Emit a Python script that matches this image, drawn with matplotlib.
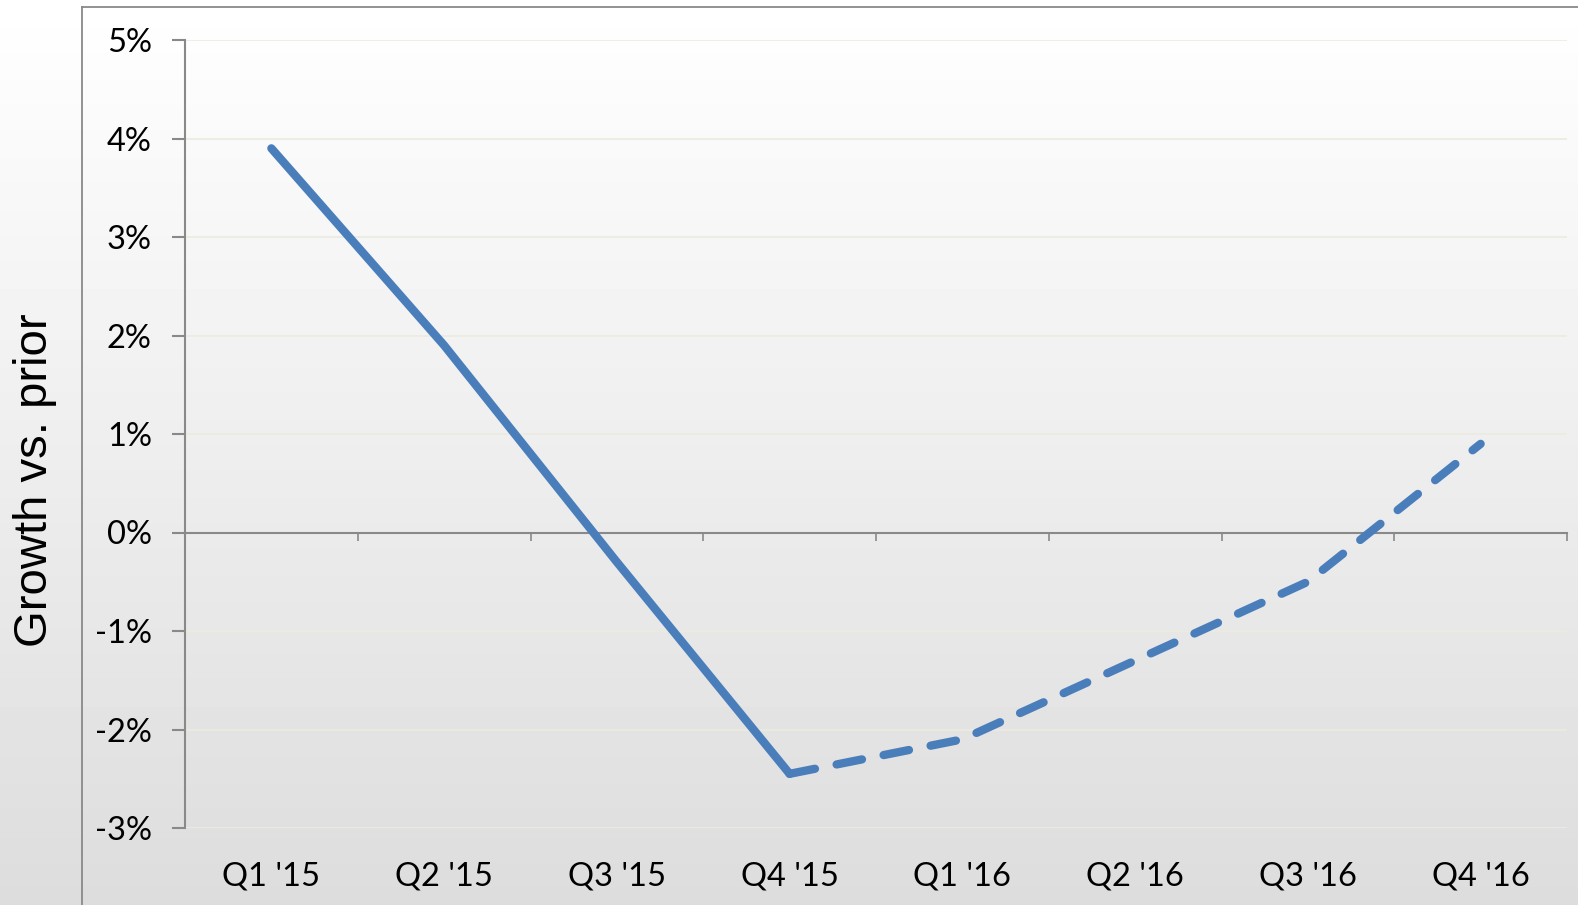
import numpy as np
import matplotlib
matplotlib.use("Agg")
import matplotlib.pyplot as plt
from matplotlib.lines import Line2D

# quarterly growth vs. prior, solid = actual, dashed = forecast
quarters = ["Q1 '15", "Q2 '15", "Q3 '15", "Q4 '15", "Q1 '16", "Q2 '16", "Q3 '16", "Q4 '16"]
growth = [3.9, 1.9, -0.3, -2.45, -2.1, -1.3, -0.5, 0.9]
n_actual = 4
yticks = [-3, -2, -1, 0, 1, 2, 3, 4, 5]

blue = "#4a7ebb"
gray = "#898989"

fig = plt.figure(figsize=(15.78, 9.05), dpi=100)

# gradient background, white at top to light gray at bottom
bg = fig.add_axes([0, 0, 1, 1], zorder=-10)
grad = np.linspace(1.0, 0.865, 256).reshape(-1, 1)
bg.imshow(grad, aspect="auto", cmap="gray", vmin=0, vmax=1, extent=[0, 1, 0, 1])
bg.axis("off")

# outer frame lines
fig.add_artist(Line2D([82 / 1578, 82 / 1578], [0, 1 - 7 / 905], color=gray, lw=1.3))
fig.add_artist(Line2D([82 / 1578, 1], [1 - 7 / 905, 1 - 7 / 905], color=gray, lw=1.3))

ax = fig.add_axes([185 / 1578, 1 - 828 / 905, (1567 - 185) / 1578, (828 - 40) / 905])
ax.set_facecolor("none")

x = np.arange(len(quarters))
ax.plot(x[:n_actual], growth[:n_actual], color=blue, lw=6, solid_capstyle="round",
        solid_joinstyle="miter", zorder=5)
ax.plot(x[n_actual - 1:], growth[n_actual - 1:], color=blue, lw=6, dashes=(3.1, 2.65),
        dash_capstyle="round", zorder=5)

ax.set_xlim(-0.5, len(quarters) - 0.5)
ax.set_ylim(-3, 5)

for s in ["top", "right"]:
    ax.spines[s].set_visible(False)
ax.spines["left"].set_color(gray)
ax.spines["left"].set_linewidth(1.5)
ax.spines["bottom"].set_position(("data", 0))
ax.spines["bottom"].set_color(gray)
ax.spines["bottom"].set_linewidth(1.5)

ax.set_yticks(yticks)
ax.set_yticklabels([f"{v}%" for v in yticks])
ax.yaxis.grid(True, color="#ecebdf", lw=1.2)
ax.set_axisbelow(True)
ax.tick_params(axis="y", length=9.4, width=1.5, color=gray, pad=14.5, labelsize=23.5)

# boundary ticks on the zero line, labels at the bottom
ax.set_xticks(np.arange(len(quarters) + 1) - 0.5)
ax.set_xticklabels([])
ax.tick_params(axis="x", length=6, width=1.2, color=gray, direction="out")

sec = ax.secondary_xaxis("bottom")
sec.set_xticks(x)
sec.set_xticklabels(quarters)
sec.spines["bottom"].set_visible(False)
sec.tick_params(length=0, pad=24, labelsize=23.5)

for lab in ax.get_yticklabels() + sec.get_xticklabels():
    lab.set_fontfamily("Lato")

fig.text(35 / 1578, 1 - 480 / 905, "Growth vs. prior", rotation=90, ha="center", va="center",
         fontsize=34, fontfamily="Liberation Sans")

fig.savefig("out.png", dpi=100)
